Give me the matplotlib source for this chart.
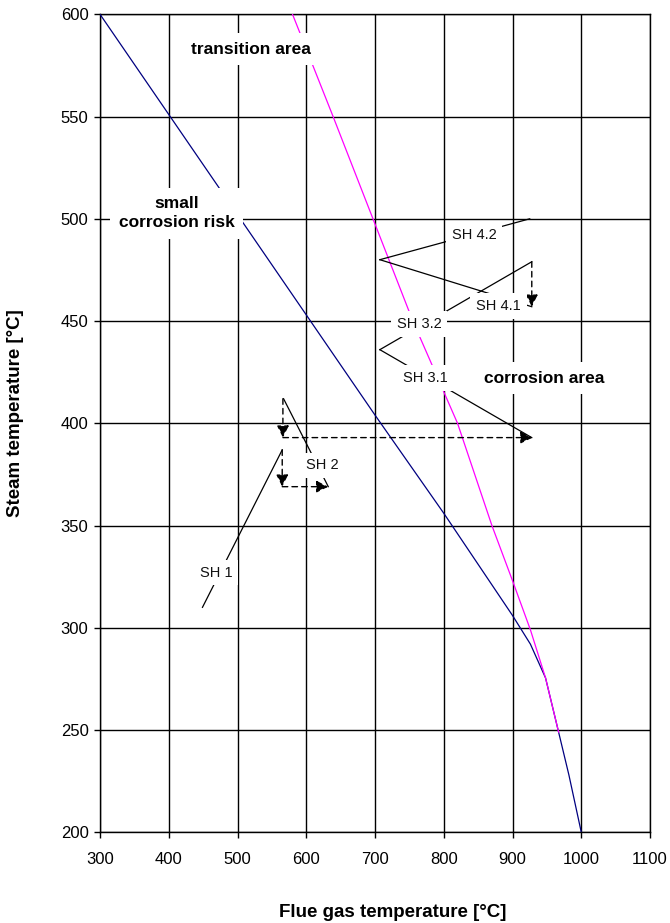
import numpy as np
import matplotlib.pyplot as plt

plt.rcParams['font.family'] = ['Liberation Sans', 'DejaVu Sans']

# ---- axis ----
x_ticks = [300, 400, 500, 600, 700, 800, 900, 1000, 1100]
y_ticks = [200, 250, 300, 350, 400, 450, 500, 550, 600]

# ---- boundary curves ----
blue_x = [300, 400, 500, 600, 700, 800, 900, 926, 948, 967, 982, 1000]
blue_y = [600, 551, 502, 453, 404, 356, 306, 292, 275.5, 249, 228, 200]
magenta_x = [580, 639, 697, 755, 820, 870, 900, 926, 948, 967]
magenta_y = [600, 550, 500, 450, 400, 350, 323, 299, 275.5, 249]

# ---- superheater segments (flue gas, steam) ----
sh1_x, sh1_y = [449, 565], [310, 387]
sh2_x, sh2_y = [632, 567], [369, 412]
sh31_x, sh31_y = [928, 707], [393, 436]
sh32_x, sh32_y = [707, 928], [436, 479]
sh41_x, sh41_y = [928, 707], [457, 480]
sh42_x, sh42_y = [707, 925], [480, 500]

# dashed connections between superheaters
arrow_x0 = [565, 565, 566, 566, 928]
arrow_y0 = [387, 369, 412, 393, 479]
arrow_x1 = [565, 632, 566, 929, 928]
arrow_y1 = [369, 369, 393, 393, 457]

# labels
sh_names = ['SH 1', 'SH 2', 'SH 3.1', 'SH 3.2', 'SH 4.1', 'SH 4.2']
sh_lab_x = [468.5, 623.6, 772.7, 764.1, 879.3, 844.3]
sh_lab_y = [327, 379.4, 422, 448.7, 457.5, 492.2]

area_names = ['transition area', 'small\ncorrosion risk', 'corrosion area']
area_x = [519, 411.3, 945.8]
area_y = [583, 502.7, 422]

fig = plt.figure(figsize=(6.7, 9.23), dpi=100)
ax = fig.add_axes([0.1493, 0.0983, 0.8209, 0.8862])

ax.plot(blue_x, blue_y, color='#000080', lw=0.9, zorder=3)
ax.plot(magenta_x, magenta_y, color='#FF00FF', lw=0.9, zorder=3)

for sx, sy in [(sh1_x, sh1_y), (sh2_x, sh2_y), (sh31_x, sh31_y),
               (sh32_x, sh32_y), (sh41_x, sh41_y), (sh42_x, sh42_y)]:
    ax.plot(sx, sy, color='black', lw=0.9, zorder=3)

for x0, y0, x1, y1 in zip(arrow_x0, arrow_y0, arrow_x1, arrow_y1):
    ax.annotate('', xy=(x1, y1), xytext=(x0, y0),
                arrowprops=dict(arrowstyle='-|>', color='black', lw=1,
                                linestyle=(0, (4, 3)), mutation_scale=18,
                                shrinkA=0, shrinkB=0), zorder=4)

for name, lx, ly in zip(sh_names, sh_lab_x, sh_lab_y):
    ax.text(lx, ly, name, fontsize=10.5, ha='center', va='center', color='#111111',
            bbox=dict(boxstyle='square,pad=0.4', facecolor='white', edgecolor='none'),
            zorder=5)

for name, lx, ly in zip(area_names, area_x, area_y):
    ax.text(lx, ly, name, fontsize=12.5, fontweight='bold', ha='center', va='center',
            linespacing=1.3,
            bbox=dict(boxstyle='square,pad=0.5', facecolor='white', edgecolor='none'),
            zorder=5)

ax.set_xlim(300, 1100)
ax.set_ylim(200, 600)
ax.set_xticks(x_ticks)
ax.set_yticks(y_ticks)
ax.grid(True, color='black', lw=1)
ax.set_axisbelow(True)
for sp in ax.spines.values():
    sp.set_color('black')
    sp.set_linewidth(1)
ax.tick_params(direction='out', length=4.3, width=1, labelsize=12, pad=4)
ax.tick_params(axis='x', pad=10)

ax.set_xlabel('Flue gas temperature [°C]', fontsize=13.5, fontweight='bold', va='center')
ax.set_ylabel('Steam temperature [°C]', fontsize=13.5, fontweight='bold', va='center')
ax.xaxis.set_label_coords(0.533, -0.098)
ax.yaxis.set_label_coords(-0.153, 0.513)

fig.savefig('out.png', dpi=100)
